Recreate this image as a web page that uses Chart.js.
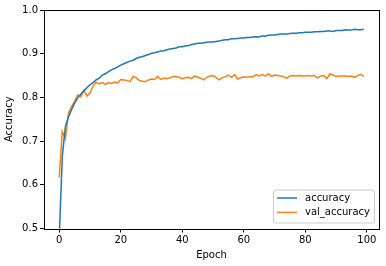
<!DOCTYPE html>
<html>
<head>
<meta charset="utf-8">
<script src="https://cdn.jsdelivr.net/npm/chart.js@4/dist/chart.umd.min.js"></script>
<style>
  html, body { margin: 0; padding: 0; background: #fff; }
  #wrap { width: 386px; height: 266px; }
</style>
</head>
<body>
<div id="wrap"><canvas id="accChart" width="386" height="266"></canvas></div>
<script>
// datos
const accuracy = [
  0.48, 0.665, 0.733, 0.755, 0.772, 0.787, 0.799, 0.807, 0.815, 0.822,
  0.829, 0.834, 0.840, 0.844, 0.851, 0.854, 0.859, 0.863, 0.866, 0.870,
  0.874, 0.877, 0.880, 0.883, 0.885, 0.889, 0.892, 0.893, 0.896, 0.898,
  0.901, 0.902, 0.904, 0.906, 0.907, 0.909, 0.911, 0.912, 0.913, 0.916,
  0.916, 0.918, 0.918, 0.921, 0.922, 0.924, 0.924, 0.925, 0.926, 0.927,
  0.927, 0.928, 0.929, 0.931, 0.932, 0.932, 0.934, 0.934, 0.935, 0.936,
  0.936, 0.937, 0.937, 0.938, 0.939, 0.938, 0.941, 0.940, 0.942, 0.943,
  0.943, 0.944, 0.945, 0.945, 0.945, 0.946, 0.947, 0.947, 0.948, 0.948,
  0.949, 0.949, 0.949, 0.950, 0.950, 0.951, 0.951, 0.952, 0.952, 0.951,
  0.953, 0.953, 0.953, 0.955, 0.954, 0.954, 0.956, 0.955, 0.955, 0.956
];
const valAccuracy = [
  0.617, 0.722, 0.705, 0.764, 0.779, 0.791, 0.806, 0.801, 0.816, 0.803,
  0.810, 0.826, 0.835, 0.831, 0.834, 0.830, 0.834, 0.832, 0.835, 0.833,
  0.841, 0.840, 0.839, 0.836, 0.848, 0.845, 0.839, 0.837, 0.836, 0.840,
  0.842, 0.841, 0.848, 0.841, 0.844, 0.843, 0.845, 0.848, 0.847, 0.846,
  0.843, 0.845, 0.846, 0.843, 0.849, 0.846, 0.844, 0.840, 0.846, 0.849,
  0.850, 0.845, 0.840, 0.845, 0.847, 0.851, 0.846, 0.852, 0.842, 0.845,
  0.847, 0.846, 0.847, 0.847, 0.852, 0.849, 0.852, 0.849, 0.854, 0.848,
  0.851, 0.850, 0.849, 0.847, 0.844, 0.849, 0.850, 0.849, 0.850, 0.849,
  0.849, 0.850, 0.849, 0.850, 0.844, 0.849, 0.850, 0.843, 0.854, 0.851,
  0.848, 0.849, 0.849, 0.849, 0.848, 0.849, 0.846, 0.850, 0.853, 0.848
];
const epochs = accuracy.map((_, i) => i);
const xTicks = [0, 20, 40, 60, 80, 100];
const yTicks = [0.5, 0.6, 0.7, 0.8, 0.9, 1.0];

const FONT = { family: 'DejaVu Sans', size: 10 };

// marco completo como en matplotlib
const framePlugin = {
    id: 'frame',
    afterDatasetsDraw(chart) {
        const { ctx, chartArea: a } = chart;
        ctx.save();
        ctx.strokeStyle = '#000';
        ctx.lineWidth = 1;
        ctx.strokeRect(Math.round(a.left) + 0.5, Math.round(a.top) + 0.5,
            Math.round(a.right - a.left), Math.round(a.bottom - a.top));
        ctx.restore();
    }
};

// leyenda abajo a la derecha, dentro del area
const legendPlugin = {
    id: 'boxLegend',
    afterDraw(chart) {
        const { ctx, chartArea: a } = chart;
        const sets = chart.data.datasets;
        const w = 101, h = 33;
        const x = a.right - 5 - w, y = a.bottom - 6 - h;
        ctx.save();
        ctx.fillStyle = 'rgba(255,255,255,0.8)';
        ctx.strokeStyle = '#cccccc';
        ctx.lineWidth = 1;
        ctx.beginPath();
        ctx.roundRect(x + 0.5, y + 0.5, w, h, 2);
        ctx.fill();
        ctx.stroke();
        ctx.font = '10px "DejaVu Sans"';
        ctx.textBaseline = 'middle';
        sets.forEach((ds, i) => {
            const ly = y + 8.5 + i * 14.4;
            ctx.strokeStyle = ds.borderColor;
            ctx.lineWidth = 1.5;
            ctx.beginPath();
            ctx.moveTo(x + 4, ly);
            ctx.lineTo(x + 24, ly);
            ctx.stroke();
            ctx.fillStyle = '#000';
            ctx.fillText(ds.label, x + 32, ly);
        });
        ctx.restore();
    }
};

const ctx = document.querySelector('#accChart').getContext('2d');
new Chart(ctx, {
    type: 'line',
    data: {
        labels: epochs,
        datasets: [{
            label: 'accuracy',
            data: accuracy,
            borderColor: '#1f77b4',
            borderWidth: 1.5,
            pointRadius: 0,
            tension: 0,
            fill: false,
            clip: 0
        }, {
            label: 'val_accuracy',
            data: valAccuracy,
            borderColor: '#ff7f0e',
            borderWidth: 1.5,
            pointRadius: 0,
            tension: 0,
            fill: false,
            clip: 0
        }]
    },
    options: {
        responsive: false,
        animation: false,
        layout: { padding: { left: 3, top: 10, right: 7, bottom: 5 } },
        plugins: {
            legend: { display: false },
            tooltip: { enabled: false }
        },
        scales: {
            x: {
                type: 'linear',
                min: -4.95,
                max: 103.95,
                afterBuildTicks: (s) => { s.ticks = xTicks.map(v => ({ value: v })); },
                afterFit: (s) => { s.height = 32.5; },
                grid: { display: true, drawOnChartArea: false, drawTicks: true, tickLength: 4, color: '#000' },
                border: { display: false },
                ticks: { color: '#000', font: FONT, padding: 2, maxRotation: 0 },
                title: { display: true, text: 'Epoch', color: '#000', font: FONT, padding: { top: 0, bottom: 0 } }
            },
            y: {
                min: 0.5,
                max: 1.0,
                afterBuildTicks: (s) => { s.ticks = yTicks.map(v => ({ value: v })); },
                afterFit: (s) => { s.width = 41; },
                grid: { display: true, drawOnChartArea: false, drawTicks: true, tickLength: 4, color: '#000' },
                border: { display: false },
                ticks: { color: '#000', font: FONT, padding: 2, callback: (v) => v.toFixed(1) },
                title: { display: true, text: 'Accuracy', color: '#000', font: FONT, padding: { top: 0, bottom: 2 } }
            }
        }
    },
    plugins: [framePlugin, legendPlugin]
});
</script>
</body>
</html>
